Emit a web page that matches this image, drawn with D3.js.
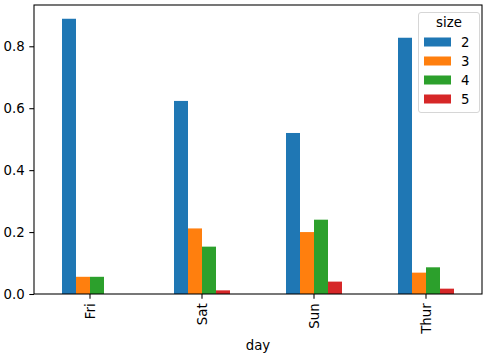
<!DOCTYPE html>
<html>
<head>
<meta charset="utf-8">
<script src="https://cdn.jsdelivr.net/npm/d3@7"></script>
<style>
  body { margin: 0; background: #fff; }
  text { font-family: "DejaVu Sans", sans-serif; fill: #000; }
</style>
</head>
<body>
<svg id="chart" width="497" height="363"></svg>
<script>
  const days = ['Fri', 'Sat', 'Sun', 'Thur'];
  const sizes = ['2', '3', '4', '5'];
  const size2 = [0.888889, 0.623529, 0.520000, 0.827586];
  const size3 = [0.055556, 0.211765, 0.200000, 0.068966];
  const size4 = [0.055556, 0.152941, 0.240000, 0.086207];
  const size5 = [0.000000, 0.011765, 0.040000, 0.017241];
  const yTicks = [0, 0.2, 0.4, 0.6, 0.8];
  const colors = ['#1f77b4', '#ff7f0e', '#2ca02c', '#d62728'];

  const series = [size2, size3, size4, size5];

  const mLeft = 34, mRight = 482, mTop = 5, mBottom = 294;
  const fs = '13.3px';
  const svg = d3.select('#chart');

  const x = d3.scaleBand().domain(days).range([mLeft, mRight]).padding(0);
  const inner = d3.scaleBand().domain(sizes).range([x.bandwidth() / 4, x.bandwidth() * 3 / 4]).padding(0);
  const yMax = d3.max(series.flat()) * 1.05;
  const y = d3.scaleLinear().domain([0, yMax]).range([mBottom, mTop]);

  // bars
  series.forEach((vals, si) => {
    svg.append('g')
      .selectAll('rect')
      .data(vals)
      .join('rect')
      .attr('x', (d, i) => x(days[i]) + inner(sizes[si]))
      .attr('width', inner.bandwidth())
      .attr('y', d => y(d))
      .attr('height', d => y(0) - y(d))
      .attr('fill', colors[si]);
  });

  // axes
  const yAxis = d3.axisLeft(y).tickValues(yTicks).tickFormat(d3.format('.1f')).tickSize(4.7).tickPadding(4.7);
  const gy = svg.append('g').attr('transform', `translate(${mLeft},0)`).call(yAxis);
  gy.select('.domain').remove();
  gy.selectAll('line').attr('stroke-width', 1.07);
  gy.selectAll('text').style('font-size', fs).style('font-family', '"DejaVu Sans"');

  const xAxis = d3.axisBottom(x).tickSize(4.7).tickPadding(4.7);
  const gx = svg.append('g').attr('transform', `translate(0,${mBottom})`).call(xAxis);
  gx.select('.domain').remove();
  gx.selectAll('line').attr('stroke-width', 1.07);
  gx.selectAll('text')
    .style('font-size', fs)
    .style('font-family', '"DejaVu Sans"')
    .attr('transform', 'rotate(-90)')
    .attr('text-anchor', 'end')
    .attr('x', -9.4)
    .attr('y', 0)
    .attr('dy', '0.35em');

  svg.append('rect')
    .attr('x', mLeft).attr('y', mTop)
    .attr('width', mRight - mLeft).attr('height', mBottom - mTop)
    .attr('fill', 'none').attr('stroke', '#000').attr('stroke-width', 1.07);

  svg.append('text')
    .attr('x', (mLeft + mRight) / 2).attr('y', 350)
    .attr('text-anchor', 'middle')
    .style('font-size', fs)
    .text('day');

  // legend
  const lg = svg.append('g');
  lg.append('rect')
    .attr('x', 418.5).attr('y', 12.5).attr('width', 61).attr('height', 100)
    .attr('rx', 2.5).attr('fill', '#fff').attr('fill-opacity', 0.8)
    .attr('stroke', '#d6d6d6');
  lg.append('text')
    .attr('x', 449).attr('y', 22.5)
    .attr('dy', '0.35em')
    .attr('text-anchor', 'middle')
    .style('font-size', fs)
    .text('size');
  sizes.forEach((s, i) => {
    const yy = 42 + i * 19;
    lg.append('rect')
      .attr('x', 424).attr('y', yy - 4.5).attr('width', 27).attr('height', 9)
      .attr('fill', colors[i]);
    lg.append('text')
      .attr('x', 461).attr('y', yy)
      .attr('dy', '0.35em')
      .style('font-size', fs)
      .text(s);
  });
</script>
</body>
</html>
